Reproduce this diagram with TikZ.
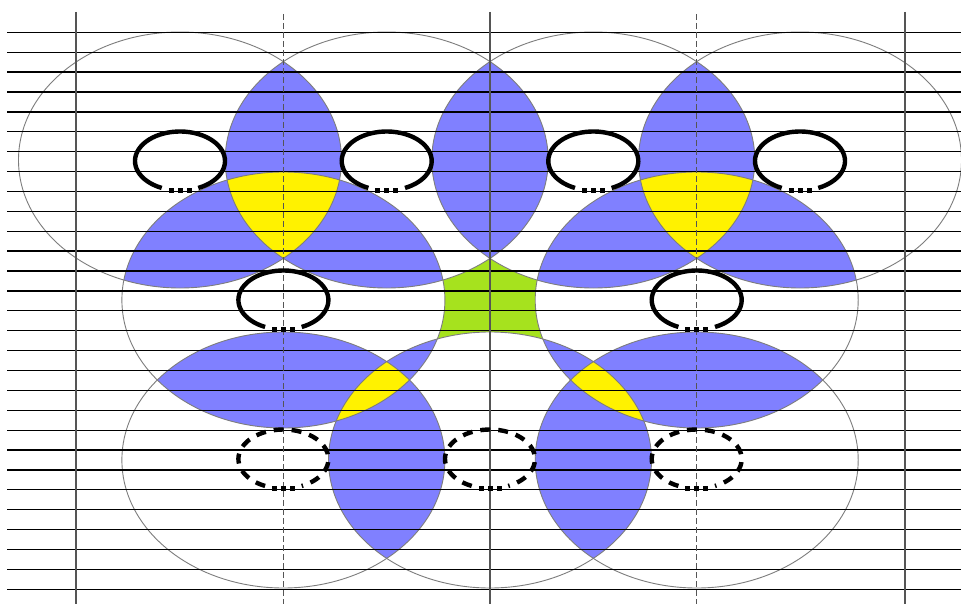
\documentclass[tikz,border=0pt]{standalone}
\usetikzlibrary{calc}
\definecolor{lensblue}{RGB}{128,128,255}
\definecolor{tripleyellow}{RGB}{255,242,0}
\definecolor{holegreen}{RGB}{166,226,30}
\definecolor{ringgray}{RGB}{125,125,125}
\definecolor{axisgray}{RGB}{85,85,85}
\begin{document}
\begin{tikzpicture}[x=1pt,y=-1pt,
  bigr/.style={x radius=161.5, y radius=128},
  smallr/.style={x radius=45, y radius=29.5},
  bigring/.style={draw=ringgray, line width=0.9pt},
  ruled/.style={black, line width=1.3pt},
  solidaxis/.style={axisgray, line width=1.7pt},
  dashaxis/.style={axisgray, line width=1.5pt, dash pattern=on 6pt off 3pt},
  loopline/.style={black, line width=4.4pt, line cap=butt},
  loopdash/.style={loopline, dash pattern=on 10pt off 8pt},
  squaredot/.style={black}]
\useasboundingbox (0,0) rectangle (961,604);
\fill[white] (0,0) rectangle (961,604);

% centres of the large rings
\coordinate (T1) at (180,160);
\coordinate (T2) at (386.7,160);
\coordinate (T3) at (593.3,160);
\coordinate (T4) at (800,160);
\coordinate (M1) at (283.4,300);
\coordinate (M2) at (696.7,300);
\coordinate (B1) at (283.4,460);
\coordinate (B2) at (490,460);
\coordinate (B3) at (696.7,460);

% green hole
\fill[holegreen] (430,250) rectangle (550,345);
\foreach \c in {T1,T2,T3,T4,M1,M2,B1,B2,B3}
  \fill[white] (\c) ellipse[bigr];

% pairwise overlaps
\foreach \a/\b in {T1/T2,T2/T3,T3/T4,T1/M1,T2/M1,T3/M2,T4/M2,M1/B1,M1/B2,M2/B2,M2/B3,B1/B2,B2/B3}{
  \begin{scope}
    \clip (\a) ellipse[bigr];
    \fill[lensblue] (\b) ellipse[bigr];
  \end{scope}
}
% triple overlaps
\foreach \a/\b/\c in {T1/T2/M1,T3/T4/M2,M1/B1/B2,M2/B2/B3}{
  \begin{scope}
    \clip (\a) ellipse[bigr];
    \clip (\b) ellipse[bigr];
    \fill[tripleyellow] (\c) ellipse[bigr];
  \end{scope}
}
% outlines
\foreach \c in {T1,T2,T3,T4,M1,M2,B1,B2,B3}
  \draw[bigring] (\c) ellipse[bigr];

% horizontal rules
\foreach \i in {0,...,28}{
  \pgfmathsetmacro{\yy}{32.3+\i*19.893}
  \draw[ruled] (7,\yy) -- (961,\yy);
}
% vertical rules
\foreach \xx in {76,490,905}
  \draw[solidaxis] (\xx,12) -- (\xx,604);
\foreach \xx in {283.4,696.7}
  \draw[dashaxis] (\xx,14) -- (\xx,604);

% small loops
\foreach \lx/\ly in {180/161,386.7/161,593.3/161,800/161,283.4/300,696.7/300}{
  \coordinate (L) at (\lx,\ly);
  \draw[loopline] (L) ++(114:45 and 29.5) arc[start angle=114, end angle=426, smallr];
  \foreach \dx in {-9,0,9}
    \fill[squaredot] ($(L)+(\dx,29.5)+(-2.5,-2.5)$) rectangle ++(5,5);
}
\foreach \lx/\ly in {283.4/459,490/459,696.7/459}{
  \coordinate (L) at (\lx,\ly);
  \draw[loopdash] (L) ++(114:45 and 29.5) arc[start angle=114, end angle=426, smallr];
  \foreach \dx in {-9,0,9}
    \fill[squaredot] ($(L)+(\dx,29.5)+(-2.5,-2.5)$) rectangle ++(5,5);
}
\end{tikzpicture}
\end{document}
